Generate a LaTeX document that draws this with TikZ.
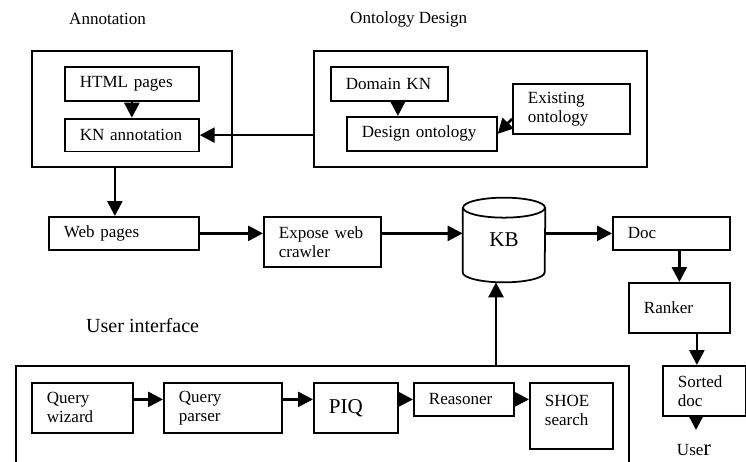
\documentclass[tikz,border=0pt]{standalone}
\usepackage{fontspec}
\setmainfont{Liberation Serif}
\usetikzlibrary{arrows.meta,positioning}
\newcommand{\boxfont}{\fontsize{9.7}{10.8}\selectfont}
\newcommand{\bigfont}{\fontsize{12}{13}\selectfont}
\newcommand{\titlefont}{\fontsize{11.4}{13}\selectfont}

\begin{document}
\begin{tikzpicture}[x=0.02cm, y=-0.02cm,
    box/.style={rectangle, draw, line width=1pt, inner xsep=0.3cm, inner ysep=0pt,
        align=left, font=\boxfont, anchor=north west},
    frame/.style={rectangle, draw, line width=1pt, anchor=north west},
    link/.style={-{Triangle[length=0.3cm, width=0.3cm]}, line width=1.5pt},
    title/.style={anchor=west, font=\boxfont}
]
\useasboundingbox (0,0) rectangle (746,462);

% annotation part
\node[title] (anntitle) at (63,19) {Annotation};
\node[frame, minimum width=4cm, minimum height=2.32cm] (annot) at (31,50) {};
\node[box, text width=2.08cm, minimum height=0.68cm] (html) at (64,66) {HTML pages};
\node[box, text width=2.08cm, minimum height=0.66cm, below=0.32cm of html] (knann) {KN annotation};

% ontology part
\node[title] (ontotitle) at (344,19) {Ontology Design};
\node[frame, minimum width=6.66cm, minimum height=2.32cm] (onto) at (313,50) {};
\node[box, text width=1.74cm, minimum height=0.68cm] (domain) at (330,66) {Domain KN};
\node[box, text width=2.4cm, minimum height=0.68cm] (design) at (346,116) {Design ontology};
\node[box, text width=1.74cm, minimum height=1cm] (exist) at (512,83) {Existing\\ontology};

\draw[link] (html.south) -- (knann.north);
\draw[link] ([xshift=0.17cm]domain.south) -- ([xshift=0.17cm]domain.south |- design.north);
\draw[link] ([yshift=-0.2cm]exist.west) -- (design.east);
\draw[link] (knann.east -| onto.west) -- (knann.east);

% middle row
\node[box, text width=2.4cm, minimum height=0.66cm] (web) at (48,216) {Web pages};
\node[box, text width=1.74cm, minimum height=1cm] (expose) at (263,216) {Expose web\\crawler};
\node[minimum width=1.64cm, minimum height=1.68cm, inner sep=0pt, font=\bigfont] (kb) at (504,240) {KB};
\draw[line width=1pt] ([yshift=-0.2cm]kb.north) ellipse (0.82cm and 0.2cm);
\draw[line width=1pt] ([yshift=-0.2cm]kb.north west) -- ([yshift=0.2cm]kb.south west)
    arc (180:360:0.82cm and 0.2cm) -- ([yshift=-0.2cm]kb.north east);
\node[box, text width=1.74cm, minimum height=0.66cm] (doc) at (612,216) {Doc};
\node[box, text width=1.42cm, minimum height=1cm] (ranker) at (628,282) {Ranker};
\node[box, text width=1.06cm, minimum height=1cm] (sorted) at (662,365) {Sorted\\doc};
\node[font=\boxfont] (user) at (694,450) {Use{\fontsize{13}{13}\selectfont r}};
\coordinate (userin) at (696,430);

\draw[link] ([xshift=-0.34cm]annot.south) -- ([xshift=-0.34cm]annot.south |- web.north);
\draw[link] (web.east) -- (web.east -| expose.west);
\draw[link] (expose.east |- web.east) -- (web.east -| kb.west);
\draw[link] (doc.west -| kb.east) -- (doc.west);
\draw[link] (ranker.north |- doc.south) -- (ranker.north);
\draw[link] ([xshift=0.35cm]ranker.south) -- ([xshift=0.35cm]ranker.south |- sorted.north);
\draw[link] (userin |- sorted.south) -- (userin);

% user interface
\node[anchor=west, font=\titlefont] (uititle) at (80,326) {User interface};
\node[frame, minimum width=12.26cm, minimum height=2.4cm] (ui) at (15,365) {};
\node[box, text width=1.42cm, minimum height=1cm] (qwiz) at (31,382) {Query\\wizard};
\node[box, text width=1.76cm, minimum height=1cm] (qpars) at (163,382) {Query\\parser};
\node[box, text width=1.08cm, minimum height=1cm, font=\bigfont] (piq) at (313,382) {PIQ};
\node[box, text width=1.4cm, minimum height=0.66cm] (reas) at (413,382) {Reasoner};
\node[box, text width=1.06cm, minimum height=1.32cm] (shoe) at (529,382) {SHOE\\search\\[-4pt]\mbox{}};

\draw[link] (qwiz.east |- reas.west) -- (qpars.west |- reas.west);
\draw[link] (qpars.east |- reas.west) -- (piq.west |- reas.west);
\draw[link] (piq.east |- reas.west) -- (reas.west);
\draw[link] (reas.east) -- (shoe.west |- reas.east);
\draw[link] ([xshift=-0.16cm]kb.south |- ui.north) -- ([xshift=-0.16cm]kb.south);
\end{tikzpicture}
\end{document}
